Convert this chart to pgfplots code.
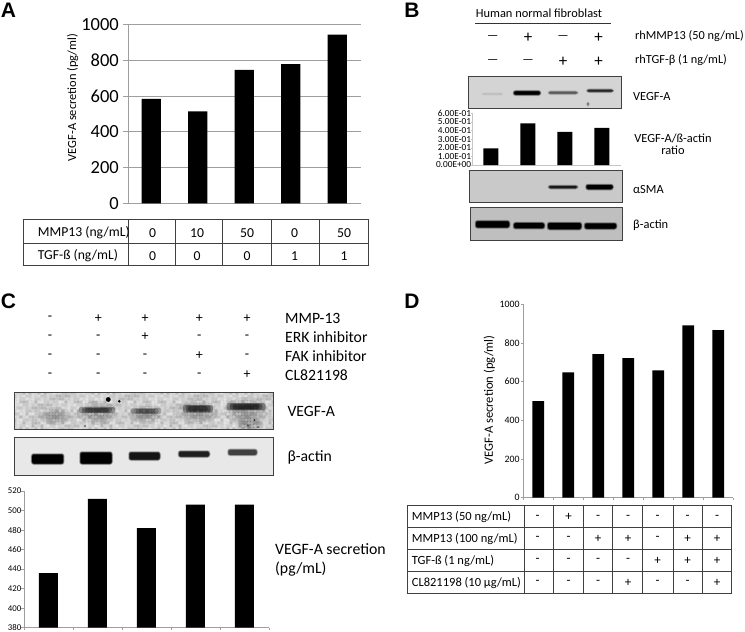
\documentclass[border=0pt]{standalone}
\usepackage{pgfplots}
\pgfplotsset{compat=1.18}
\usepackage{fontspec}
\setmainfont{Carlito}
\newfontfamily\heavy{Liberation Sans}[Scale=1]
\definecolor{axgray}{gray}{0.62}
\definecolor{fr}{gray}{0.25}
\newcommand{\fs}[1]{\fontsize{#1}{#1}\selectfont}
% soft-edged blot band: concentric rounded boxes, centre (#1,#2), half sizes (#3,#4), ink #5, ground #6
\newcommand{\band}[6]{%
  \colorlet{bink}{#5}\colorlet{bgd}{#6}%
  \fill[bink!15!bgd,rounded corners=3pt] ({#1-#3-1.5},{#2-#4-1.5}) rectangle ({#1+#3+1.5},{#2+#4+1.5});
  \fill[bink!40!bgd,rounded corners=2.5pt] ({#1-#3-1},{#2-#4-1}) rectangle ({#1+#3+1},{#2+#4+1});
  \fill[bink!70!bgd,rounded corners=2pt] ({#1-#3-0.5},{#2-#4-0.5}) rectangle ({#1+#3+0.5},{#2+#4+0.5});
  \fill[bink,rounded corners=1.5pt] ({#1-#3},{#2-#4}) rectangle ({#1+#3},{#2+#4});}
\newcommand{\softband}[5]{%
  \foreach \k in {1.5,1.25,1}{\fill[black,fill opacity=#5,rounded corners=2pt] ({#1-#3*\k},{#2-#4*\k}) rectangle ({#1+#3*\k},{#2+#4*\k});}}
\newcommand{\smudge}[4]{%
  \foreach \k in {1,0.8,0.6,0.4}{\fill[black,fill opacity=0.10] (#1,#2) ellipse ({#3*\k} and {#4*\k});}}
\newcommand{\tl}[4]{\node[anchor=west,inner sep=0pt,font=\fs{#3}] at (#1,#2) {#4};}
\newcommand{\tc}[4]{\node[anchor=center,inner sep=0pt,font=\fs{#3}] at (#1,#2) {#4};}
\newcommand{\blot}[5]{\fill[#5] (#1,#3) rectangle (#2,#4); }
\newcommand{\bframe}[4]{\draw[fr,line width=1pt] (#1,#3) rectangle (#2,#4);}
\pgfplotsset{
  panel/.style={
    scale only axis, clip=false, axis lines=left, axis line style={-,axgray,line width=0.7pt},
    tick style={axgray,line width=0.6pt}, tick align=outside, major tick length=3pt,
    enlargelimits=false, ybar, /pgf/number format/assume math mode=true,
    /pgf/number format/1000 sep={}, /pgf/number format/fixed,
    xticklabels={}, anchor=south west,
  },
}
\begin{document}
\begin{tikzpicture}
\path[use as bounding box,fill=white] (0pt,0pt) rectangle (745pt,-632pt);

% --- Panel A
\begin{axis}[panel, at={(128pt,-203.3pt)}, width=232.5pt, height=179pt,
  xmin=-0.5, xmax=4.5, ymin=0, ymax=1000, ytick={0,200,400,600,800,1000}, xtick=\empty,
  bar width=19.3pt, major tick length=5pt, ymajorgrids, grid style={axgray,line width=0.7pt},
  yticklabel style={font=\fs{18.5},inner sep=0pt,xshift=-4pt}]
\addplot[fill=black,draw=none] coordinates {(0,583)(1,513)(2,745)(3,778)(4,942)};
\end{axis}

% --- Panel B chart
\begin{axis}[panel, at={(472.3pt,-165pt)}, width=148pt, height=51.7pt,
  xmin=-0.5, xmax=3.5, ymin=0, ymax=0.6, ytick={0,0.1,0.2,0.3,0.4,0.5,0.6},
  yticklabels={0.00E+00,1.00E-01,2.00E-01,3.00E-01,4.00E-01,5.00E-01,6.00E-01},
  xtick={-0.5,0.5,1.5,2.5,3.5}, bar width=15pt, major tick length=1pt,
  axis line style={-,axgray!60,line width=0.5pt}, tick style={axgray!60,line width=0.4pt},
  yticklabel style={font=\fs{9.3},inner sep=0pt,xshift=0pt}]
\addplot[fill=black,draw=none] coordinates {(0,0.194)(1,0.484)(2,0.383)(3,0.43)};
\end{axis}

% --- Panel C chart
\begin{axis}[panel, at={(24pt,-627.7pt)}, width=245pt, height=136.7pt,
  xmin=-0.5, xmax=4.5, ymin=380, ymax=520, ytick={380,400,420,440,460,480,500,520},
  xtick={-0.5,0.5,1.5,2.5,3.5,4.5}, bar width=19pt, major tick length=2.5pt,
  yticklabel style={font=\fs{8.8},inner sep=0pt,xshift=0pt}]
\addplot[fill=black,draw=none] coordinates {(0,436)(1,512)(2,482)(3,506)(4,506)};
\end{axis}

% --- Panel D chart
\begin{axis}[panel, at={(523.3pt,-497.7pt)}, width=210pt, height=193.4pt,
  xmin=-0.5, xmax=6.5, ymin=0, ymax=1000, ytick={0,200,400,600,800,1000},
  xtick={-0.5,0.5,1.5,2.5,3.5,4.5,5.5,6.5}, bar width=11.7pt, major tick length=2.5pt,
  yticklabel style={font=\fs{9.8},inner sep=0pt,xshift=-1pt}]
\addplot[fill=black,draw=none] coordinates {(0,500)(1,648)(2,743)(3,722)(4,659)(5,891)(6,866)};
\end{axis}

\begin{scope}[x=1pt,y=-1pt]
% panel letters
\node[font=\heavy\bfseries\fs{21},inner sep=0pt] at (8.5,10) {A};
\node[font=\heavy\bfseries\fs{21},inner sep=0pt] at (412,10) {B};
\node[font=\heavy\bfseries\fs{21},inner sep=0pt] at (8.5,301) {C};
\node[font=\heavy\bfseries\fs{21},inner sep=0pt] at (412,301) {D};

% A labels and table
\node[rotate=90,font=\fs{12.4},inner sep=0pt] at (72.7,97.5) {VEGF-A secretion (pg/ml)};
\draw[fr,line width=0.8pt] (23.3,219.5) rectangle (368,265.7);
\draw[fr,line width=0.8pt] (23.3,243)--(368,243);
\foreach \x in {128.5,175,222,271.7,319} \draw[fr,line width=0.8pt] (\x,219.5)--(\x,265.7);
\tl{37.7}{233}{13.7}{MMP13 (ng/mL)}
\tl{37.7}{256}{13.7}{TGF-ß (ng/mL)}
\foreach \x/\a/\b in {152.7/0/0,197/10/0,247/50/0,294.7/0/1,344/50/1}{
  \tc{\x}{233}{13.7}{\a}
  \tc{\x}{256}{13.7}{\b}
}

% B header
\tc{539}{13}{12.4}{Human normal fibroblast}
\draw[black!80,line width=0.6pt] (475,23.7)--(611,23.7);
\tc{492.7}{37.7}{12.5}{---}\tc{528}{37.7}{17}{+}\tc{563}{37.7}{12.5}{---}\tc{598.7}{37.7}{17}{+}
\tc{492.7}{61.7}{12.5}{---}\tc{528}{61.7}{12.5}{---}\tc{563}{61.7}{17}{+}\tc{598.7}{61.7}{17}{+}
\tl{635}{36}{12.3}{rhMMP13 (50 ng/mL)}
\tl{635}{60}{12.3}{rhTGF-β (1 ng/mL)}
% B blot 1
\colorlet{g1}{black!17}
\blot{468.7}{621.7}{76}{108}{g1}
\band{492.3}{94}{9}{0.1}{black!28}{g1}
\band{527}{93}{13}{1.6}{black}{g1}
\band{563}{92.7}{14}{0.9}{black!65}{g1}
\band{600}{90.7}{12.5}{0.9}{black!85}{g1}
\band{588}{104}{0.6}{1}{black!55}{g1}
\bframe{468.7}{621.7}{76}{108}
\tl{633}{97}{12.4}{VEGF-A}
\tc{673}{138}{12.4}{VEGF-A/ß-actin}
\tc{673}{150}{12.4}{ratio}
% B blot 2
\colorlet{g2}{black!21}
\blot{469}{622}{170}{202}{g2}
\band{563}{187}{14}{1}{black!90}{g2}
\band{599.5}{187}{13}{2}{black}{g2}
\bframe{469}{622}{170}{202}
\tl{633}{190}{12.4}{αSMA}
% B blot 3
\colorlet{g3}{black!25}
\blot{470}{622}{207.7}{240.7}{g3}
\band{492.5}{224.3}{16.5}{3}{black}{g3}
\band{529}{225.7}{15}{2.5}{black}{g3}
\band{564.5}{226}{16.5}{3}{black}{g3}
\band{600.5}{226}{15.5}{2.5}{black}{g3}
\bframe{470}{622}{207.7}{240.7}
\tl{633}{225}{12.4}{β-actin}

% C header
\foreach \x/\a/\b/\c/\d in {50/-/-/-/-,98.3/+/-/-/-,145/+/+/-/-,199.3/+/-/+/-,247/+/-/-/+}{
  \tc{\x}{318.3}{14}{\a}
  \tc{\x}{337}{14}{\b}
  \tc{\x}{356}{14}{\c}
  \tc{\x}{375}{14}{\d}
}
\tl{285}{318}{15.7}{MMP-13}
\tl{285}{337}{15.7}{ERK inhibitor}
\tl{285}{356}{15.7}{FAK inhibitor}
\tl{285}{375}{15.7}{CL821198}
% C blot 1
\colorlet{g4}{black!18}
\blot{14.7}{273.3}{392.3}{429.3}{g4}
\begin{scope}
\clip (14.7,392.3) rectangle (273.3,429.3);
\smudge{55}{416}{16}{9}
\smudge{97}{413}{20}{12}
\smudge{146}{414}{18}{10}
\smudge{198}{412}{20}{12}
\smudge{246}{411}{22}{14}
\smudge{250}{425}{14}{8}
\foreach \i in {0,...,86}{
  \foreach \j in {0,...,12}{
    \pgfmathtruncatemacro{\g}{mod(mod(\i*\i,23)*7+mod(\j*\j,23)*13+mod(\i*\j,23)*5+\i,23)*2}
    \fill[black!\g,fill opacity=0.42] ({15+3*\i},{393+3*\j}) circle (1.9);
  }
}
\softband{97}{410}{12}{2}{0.28}
\softband{146}{411}{10}{2}{0.2}
\softband{198}{408.7}{10}{2.6}{0.32}
\softband{246}{406.7}{13}{2.4}{0.36}
\end{scope}
\fill[black] (108.3,399.5) circle (2.4);
\fill[black] (119.3,401.3) circle (1.4);
\fill[black!80] (254.5,420) circle (1);
\fill[black!80] (85,426) circle (0.8);
\fill[black!70] (248,425.5) circle (1.2);
\fill[black!70] (258,427) circle (1);
\bframe{14.7}{273.3}{392.3}{429.3}
\tl{287.3}{411.7}{15.7}{VEGF-A}
% C blot 2
\colorlet{g5}{black!9}
\blot{14}{273.3}{437}{475.7}{g5}
\band{47.7}{459}{15.5}{4.5}{black}{g5}
\band{96}{458}{15.5}{5.5}{black}{g5}
\band{144.5}{456}{15}{3.5}{black!92}{g5}
\band{194}{454}{15}{2.5}{black!88}{g5}
\band{242.5}{452.3}{14}{2.5}{black!75}{g5}
\bframe{14}{273.3}{437}{475.7}
\tl{287.3}{457}{15.7}{β-actin}
\tl{275}{549}{15.8}{VEGF-A secretion}
\tl{275}{568.7}{15.8}{(pg/mL)}

% D labels and table
\node[rotate=90,font=\fs{12.6},inner sep=0pt] at (489.3,400) {VEGF-A secretion (pg/ml)};
\draw[fr,line width=0.8pt] (407.3,505.3) rectangle (731,593.3);
\foreach \y in {527.3,549.3,571.7} \draw[fr,line width=0.8pt] (407.3,\y)--(731,\y);
\foreach \x in {524.3,553.7,583,612.7,642.7,673,702.3} \draw[fr,line width=0.8pt] (\x,505.3)--(\x,593.3);
\tl{411.7}{517}{12.5}{MMP13 (50 ng/mL)}
\tl{411.7}{538.5}{12.5}{MMP13 (100 ng/mL)}
\tl{411.7}{560.5}{12.5}{TGF-ß (1 ng/mL)}
\tl{411.7}{582.5}{12.5}{CL821198 (10 µg/mL)}
\foreach \x/\a/\b/\c/\d in {537.7/-/-/-/-,568.5/+/-/-/-,598/-/+/-/-,628/-/+/-/+,657.5/-/-/+/-,687.7/-/+/+/-,717/-/+/+/+}{
  \tc{\x}{517}{13}{\a}
  \tc{\x}{538.5}{13}{\b}
  \tc{\x}{560.5}{13}{\c}
  \tc{\x}{582.5}{13}{\d}
}
\end{scope}
\end{tikzpicture}
\end{document}
